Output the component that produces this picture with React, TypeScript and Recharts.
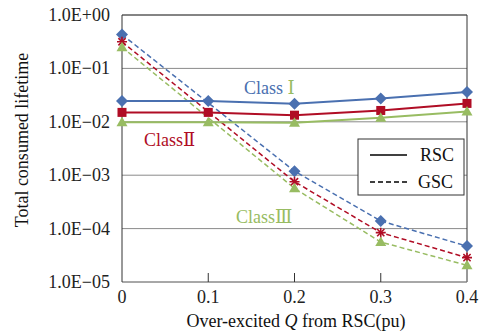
import React from 'react';
import { LineChart, Line, XAxis, YAxis, CartesianGrid, ReferenceLine, Customized } from 'recharts';

// over-excited Q (pu)
const xValues = [0, 0.1, 0.2, 0.3, 0.4];

// RSC (solid)
const rscClass1 = [0.0244, 0.0244, 0.0218, 0.0274, 0.036];
const rscClass2 = [0.015, 0.015, 0.0133, 0.0163, 0.0221];
const rscClass3 = [0.0098, 0.0098, 0.0096, 0.0119, 0.0156];

// GSC (dashed)
const gscClass1 = [0.43, null, 0.00119, 0.000139, 0.000047];
const gscClass2 = [0.315, null, 0.000756, 0.000084, 0.0000286];
const gscClass3 = [0.25, null, 0.000567, 0.000056, 0.0000205];

const yTicks = [1e-5, 1e-4, 1e-3, 1e-2, 1e-1, 1];

const data = xValues.map((x, i) => ({
    x,
    rsc1: rscClass1[i],
    rsc2: rscClass2[i],
    rsc3: rscClass3[i],
    gsc1: gscClass1[i],
    gsc2: gscClass2[i],
    gsc3: gscClass3[i],
}));

const BLUE = '#4a70b0';
const RED = '#b00d25';
const GREEN = '#98bc62';
const FONT = "'Liberation Serif', 'Times New Roman', 'DejaVu Serif', serif";
const txt = { fontFamily: FONT, fontSize: 18 };

const fmtY = (v: number) => {
    const e = Math.round(Math.log10(v));
    const s = Math.abs(e).toString().padStart(2, '0');
    return `1.0E${e < 0 ? '\u2212' : '+'}${s}`;
};

const diamond = (color: string) => (p: any) => {
    const { cx, cy, index } = p;
    if (cx == null || cy == null || p.value == null) return <g key={`n${index}`} />;
    return <path key={`d${index}`} d={`M${cx},${cy - 6}L${cx + 6},${cy}L${cx},${cy + 6}L${cx - 6},${cy}Z`} fill={color} />;
};

const square = (color: string) => (p: any) => {
    const { cx, cy, index } = p;
    if (cx == null || cy == null || p.value == null) return <g key={`n${index}`} />;
    return <rect key={`s${index}`} x={cx - 4.5} y={cy - 4.5} width={9} height={9} fill={color} />;
};

const triangle = (color: string) => (p: any) => {
    const { cx, cy, index } = p;
    if (cx == null || cy == null || p.value == null) return <g key={`n${index}`} />;
    return <path key={`t${index}`} d={`M${cx},${cy - 5.5}L${cx + 5.5},${cy + 4}L${cx - 5.5},${cy + 4}Z`} fill={color} />;
};

const asterisk = (color: string) => (p: any) => {
    const { cx, cy, index } = p;
    if (cx == null || cy == null || p.value == null) return <g key={`n${index}`} />;
    const r = 5;
    const d = 3.6;
    return (
        <g key={`a${index}`} stroke={color} strokeWidth={1.6}>
            <line x1={cx - r} y1={cy} x2={cx + r} y2={cy} />
            <line x1={cx} y1={cy - r} x2={cx} y2={cy + r} />
            <line x1={cx - d} y1={cy - d} x2={cx + d} y2={cy + d} />
            <line x1={cx - d} y1={cy + d} x2={cx + d} y2={cy - d} />
        </g>
    );
};

const XTick = (props: any) => {
    const { x, y, payload } = props;
    const inner = payload.value > 0 && payload.value < 0.4;
    return (
        <g>
            {inner && <line x1={x} y1={y} x2={x} y2={y - 9} stroke="#333" />}
            <text x={x} y={y + 21} textAnchor="middle" style={txt} fill="#222">
                {payload.value}
            </text>
        </g>
    );
};

const YTick = (props: any) => {
    const { x, y, payload } = props;
    return (
        <text x={x} y={y + 6} textAnchor="end" style={txt} fill="#222">
            {fmtY(payload.value)}
        </text>
    );
};

const Overlay = () => (
    <g style={txt}>
        <text x={244} y={94} fill={BLUE} style={txt}>Class<tspan fill={GREEN}> {'\u2160'}</tspan></text>
        <text x={144} y={146} fill={RED} style={txt}>Class{'\u2161'}</text>
        <text x={236} y={223} fill={GREEN} style={txt}>Class{'\u2162'}</text>

        <rect x={358} y={139} width={106} height={56} fill="#fff" stroke="#333" />
        <line x1={370} y1={155} x2={407} y2={155} stroke="#000" strokeWidth={1.5} />
        <text x={420} y={161} fill="#111" style={txt}>RSC</text>
        <line x1={370} y1={182} x2={407} y2={182} stroke="#000" strokeWidth={1.5} strokeDasharray="5 3" />
        <text x={418} y={188} fill="#111" style={txt}>GSC</text>

        <text x={28} y={140} textAnchor="middle" transform="rotate(-90 28 140)" fill="#111" style={txt}>Total consumed lifetime</text>
        <text x={296} y={327} textAnchor="middle" fill="#111" style={txt}>
            Over-excited <tspan fontStyle="italic">Q</tspan> from RSC(pu)
        </text>
    </g>
);

export default function App() {
    return (
        <div style={{ width: 484, height: 334, background: '#fff' }}>
            <style>{'body{margin:0}'}</style>
            <LineChart width={484} height={334} data={data} margin={{ top: 15, right: 17, left: 0, bottom: 0 }}>
                <CartesianGrid horizontal vertical={false} stroke="#8a8a8a" />
                <XAxis
                    dataKey="x"
                    type="number"
                    domain={[0, 0.4]}
                    ticks={xValues}
                    height={52}
                    tickSize={0}
                    tickMargin={0}
                    tickLine={false}
                    axisLine={{ stroke: '#8a8a8a' }}
                    tick={<XTick />}
                />
                <YAxis
                    scale="log"
                    domain={[1e-5, 1]}
                    allowDataOverflow
                    ticks={yTicks}
                    width={122}
                    tickSize={12}
                    tickMargin={0}
                    tickLine={false}
                    axisLine={{ stroke: '#333' }}
                    tick={<YTick />}
                />
                <ReferenceLine y={1} stroke="#444" />
                <ReferenceLine x={0.4} stroke="#333" />

                <Line dataKey="gsc1" stroke={BLUE} strokeWidth={1.5} strokeDasharray="5 3" connectNulls dot={diamond(BLUE)} isAnimationActive={false} />
                <Line dataKey="gsc2" stroke={RED} strokeWidth={1.5} strokeDasharray="5 3" connectNulls dot={asterisk(RED)} isAnimationActive={false} />
                <Line dataKey="gsc3" stroke={GREEN} strokeWidth={1.5} strokeDasharray="5 3" connectNulls dot={triangle(GREEN)} isAnimationActive={false} />

                <Line dataKey="rsc1" stroke={BLUE} strokeWidth={2} dot={diamond(BLUE)} isAnimationActive={false} />
                <Line dataKey="rsc2" stroke={RED} strokeWidth={2} dot={square(RED)} isAnimationActive={false} />
                <Line dataKey="rsc3" stroke={GREEN} strokeWidth={2} dot={triangle(GREEN)} isAnimationActive={false} />

                <Customized component={Overlay} />
            </LineChart>
        </div>
    );
}
